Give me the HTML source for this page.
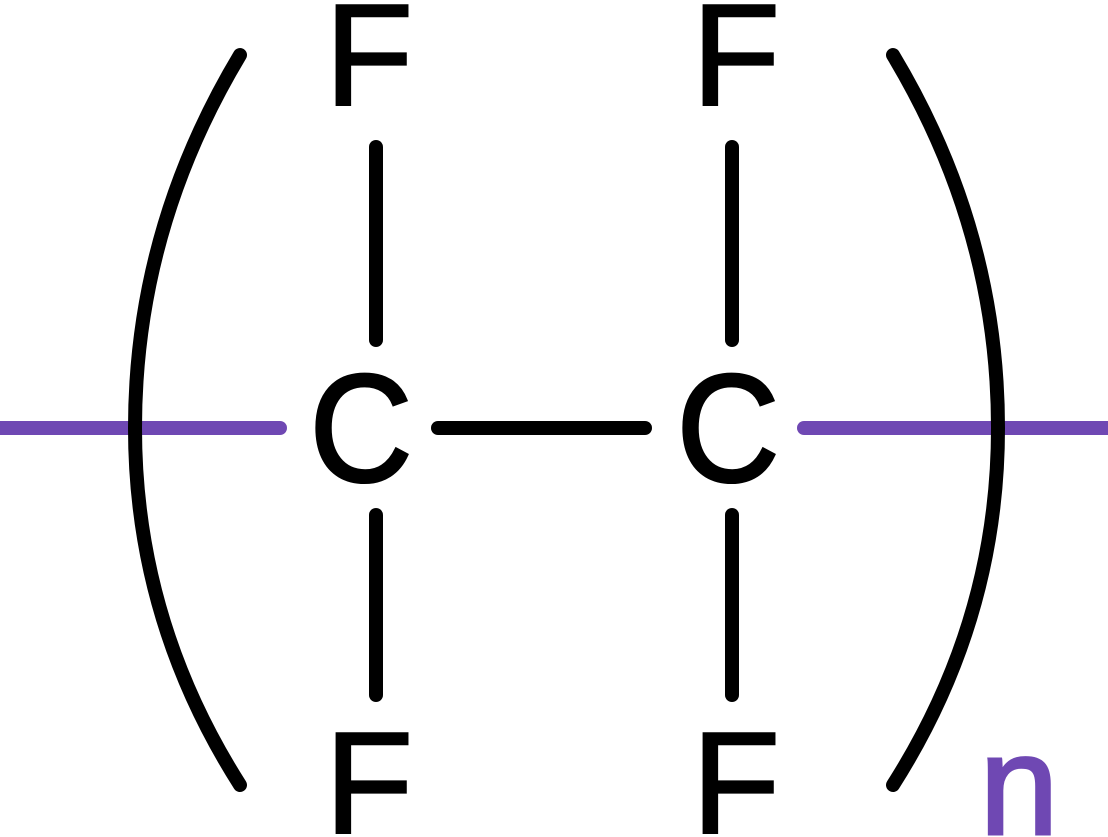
<!DOCTYPE html>
<html>
<head>
<meta charset="utf-8">
<style>
html,body{margin:0;padding:0;background:#fff;}
svg{display:block;}
text{font-family:"Liberation Sans",Arial,sans-serif;}
</style>
</head>
<body>
<svg width="1108" height="837" viewBox="0 0 1108 837">
  <rect width="1108" height="837" fill="#fff"/>
  <line x1="0" y1="428" x2="280" y2="428" stroke="#6f48b3" stroke-width="14" stroke-linecap="round"/>
  <line x1="804" y1="428" x2="1108" y2="428" stroke="#6f48b3" stroke-width="14" stroke-linecap="round"/>
  <path d="M240,55 Q135,230 135,428 Q135,620 240,785" fill="none" stroke="#000" stroke-width="14" stroke-linecap="round"/>
  <path d="M893,55 Q998,230 998,428 Q998,620 893,785" fill="none" stroke="#000" stroke-width="14" stroke-linecap="round"/>
  <line x1="376" y1="147" x2="376" y2="340" stroke="#000" stroke-width="14" stroke-linecap="round"/>
  <line x1="376" y1="515" x2="376" y2="695" stroke="#000" stroke-width="14" stroke-linecap="round"/>
  <line x1="732" y1="147" x2="732" y2="340" stroke="#000" stroke-width="14" stroke-linecap="round"/>
  <line x1="732" y1="515" x2="732" y2="695" stroke="#000" stroke-width="14" stroke-linecap="round"/>
  <line x1="438" y1="428" x2="645" y2="428" stroke="#000" stroke-width="14" stroke-linecap="round"/>
  <text x="369" y="105" font-size="145" text-anchor="middle" stroke="#000" stroke-width="2">F</text>
  <text x="736" y="105" font-size="145" text-anchor="middle" stroke="#000" stroke-width="2">F</text>
  <text x="369" y="833" font-size="145" text-anchor="middle" stroke="#000" stroke-width="2">F</text>
  <text x="736" y="833" font-size="145" text-anchor="middle" stroke="#000" stroke-width="2">F</text>
  <text x="0" y="0" font-size="150" text-anchor="middle" stroke="#000" stroke-width="3" transform="translate(361,481) scale(0.95,1.02)">C</text>
  <text x="0" y="0" font-size="150" text-anchor="middle" stroke="#000" stroke-width="3" transform="translate(728,481) scale(0.95,1.02)">C</text>
  <text x="1019" y="834" font-size="142" text-anchor="middle" fill="#6f48b3" stroke="#6f48b3" stroke-width="3">n</text>
</svg>
</body>
</html>
